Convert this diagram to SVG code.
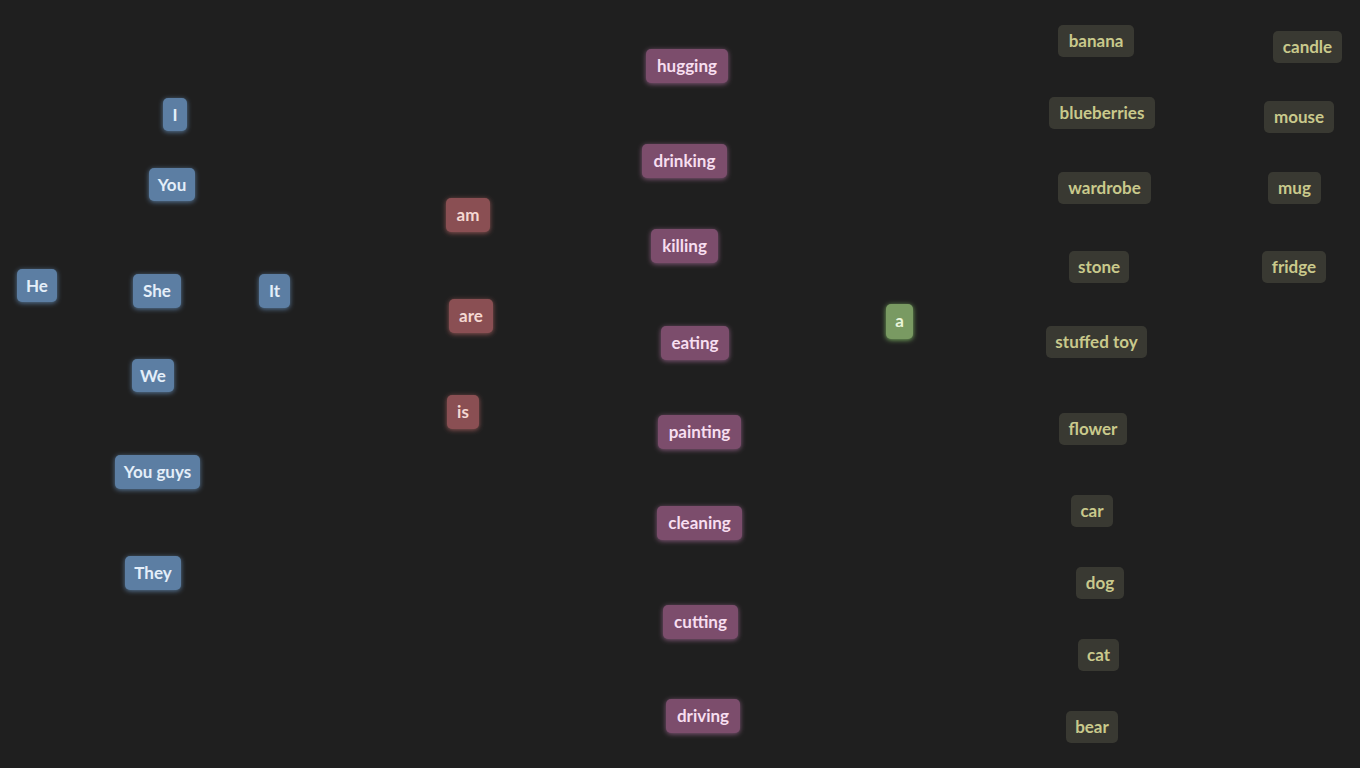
<svg xmlns="http://www.w3.org/2000/svg" width="1360" height="768" viewBox="0 0 1360 768">
<defs>
<filter id="glow" x="-50%" y="-50%" width="200%" height="200%"><feGaussianBlur in="SourceAlpha" stdDeviation="3"/><feOffset dy="1"/><feComponentTransfer><feFuncA type="linear" slope="0.9"/></feComponentTransfer><feFlood flood-color="#000"/><feComposite operator="in" in2="SourceAlpha"/></filter>
<filter id="gb" x="-50%" y="-50%" width="200%" height="200%"><feDropShadow dx="0" dy="1" stdDeviation="2.5" flood-color="#6f9fd0" flood-opacity="0.7"/></filter>
<filter id="gr" x="-50%" y="-50%" width="200%" height="200%"><feDropShadow dx="0" dy="1" stdDeviation="2.5" flood-color="#c06a6a" flood-opacity="0.7"/></filter>
<filter id="gp" x="-50%" y="-50%" width="200%" height="200%"><feDropShadow dx="0" dy="1" stdDeviation="2.5" flood-color="#b070a0" flood-opacity="0.7"/></filter>
<filter id="gg" x="-50%" y="-50%" width="200%" height="200%"><feDropShadow dx="0" dy="1" stdDeviation="2.5" flood-color="#8fd070" flood-opacity="0.8"/></filter>
</defs>
<style>
text{font-family:"Lato","Liberation Sans",sans-serif;font-weight:bold;font-size:17px;text-anchor:middle;dominant-baseline:central}
.b rect{fill:#5b7ea3;filter:url(#gb)} .b text{fill:#e4eef9}
.r rect{fill:#8a4f52;filter:url(#gr)} .r text{fill:#f5d8d2}
.p rect{fill:#7b4d6c;filter:url(#gp)} .p text{fill:#f7def0}
.g rect{fill:#799a62;filter:url(#gg)} .g text{fill:#eaf5da}
.o rect{fill:#393932} .o text{fill:#c9c98c}
</style>
<rect width="1360" height="768" fill="#1f1f1f"/>
<g id="connectors"/>
<g class="b">
<g id="n-I"><rect x="163" y="98" width="24" height="33" rx="5"/><text x="175" y="114">I</text></g>
<g id="n-You"><rect x="149" y="168" width="46" height="33" rx="5"/><text x="172" y="184">You</text></g>
<g id="n-He"><rect x="17" y="269" width="40" height="33" rx="5"/><text x="37" y="285">He</text></g>
<g id="n-She"><rect x="133" y="274" width="48" height="34" rx="5"/><text x="157" y="290">She</text></g>
<g id="n-It"><rect x="259" y="274" width="31" height="34" rx="5"/><text x="274.500" y="290">It</text></g>
<g id="n-We"><rect x="132" y="359" width="42" height="33" rx="5"/><text x="153" y="375">We</text></g>
<g id="n-Youguys"><rect x="115" y="455" width="85" height="34" rx="5"/><text x="157.500" y="471">You guys</text></g>
<g id="n-They"><rect x="125" y="556" width="56" height="34" rx="5"/><text x="153" y="572">They</text></g>
</g>
<g class="r">
<g id="n-am"><rect x="446" y="198" width="44" height="34" rx="5"/><text x="468" y="214">am</text></g>
<g id="n-are"><rect x="449" y="299" width="44" height="34" rx="5"/><text x="471" y="315">are</text></g>
<g id="n-is"><rect x="447" y="395" width="32" height="34" rx="5"/><text x="463" y="411">is</text></g>
</g>
<g class="p">
<g id="n-hugging"><rect x="646" y="49" width="82" height="34" rx="5"/><text x="687" y="65">hugging</text></g>
<g id="n-drinking"><rect x="642" y="144" width="85" height="34" rx="5"/><text x="684.500" y="160">drinking</text></g>
<g id="n-killing"><rect x="651" y="229" width="67" height="34" rx="5"/><text x="684.500" y="245">killing</text></g>
<g id="n-eating"><rect x="661" y="326" width="68" height="34" rx="5"/><text x="695" y="342">eating</text></g>
<g id="n-painting"><rect x="658" y="415" width="83" height="34" rx="5"/><text x="699.500" y="431">painting</text></g>
<g id="n-cleaning"><rect x="657" y="506" width="85" height="34" rx="5"/><text x="699.500" y="522">cleaning</text></g>
<g id="n-cutting"><rect x="663" y="605" width="75" height="34" rx="5"/><text x="700.500" y="621">cutting</text></g>
<g id="n-driving"><rect x="666" y="699" width="74" height="34" rx="5"/><text x="703" y="715">driving</text></g>
</g>
<g class="g">
<g id="n-a"><rect x="886" y="304" width="27" height="35" rx="5"/><text x="899.500" y="320">a</text></g>
</g>
<g class="o">
<g id="n-banana"><rect x="1058" y="25" width="76" height="32" rx="5"/><text x="1096" y="40">banana</text></g>
<g id="n-blueberries"><rect x="1049" y="97" width="106" height="32" rx="5"/><text x="1102" y="112">blueberries</text></g>
<g id="n-wardrobe"><rect x="1058" y="172" width="93" height="32" rx="5"/><text x="1104.500" y="187">wardrobe</text></g>
<g id="n-stone"><rect x="1069" y="251" width="60" height="32" rx="5"/><text x="1099" y="266">stone</text></g>
<g id="n-stuffedtoy"><rect x="1046" y="326" width="101" height="32" rx="5"/><text x="1096.500" y="341">stuffed toy</text></g>
<g id="n-flower"><rect x="1059" y="413" width="68" height="32" rx="5"/><text x="1093" y="428">flower</text></g>
<g id="n-car"><rect x="1071" y="495" width="42" height="32" rx="5"/><text x="1092" y="510">car</text></g>
<g id="n-dog"><rect x="1076" y="567" width="48" height="32" rx="5"/><text x="1100" y="582">dog</text></g>
<g id="n-cat"><rect x="1078" y="639" width="41" height="32" rx="5"/><text x="1098.500" y="654">cat</text></g>
<g id="n-bear"><rect x="1066" y="711" width="52" height="32" rx="5"/><text x="1092" y="726">bear</text></g>
<g id="n-candle"><rect x="1273" y="31" width="69" height="32" rx="5"/><text x="1307.500" y="46">candle</text></g>
<g id="n-mouse"><rect x="1264" y="101" width="70" height="32" rx="5"/><text x="1299" y="116">mouse</text></g>
<g id="n-mug"><rect x="1268" y="172" width="53" height="32" rx="5"/><text x="1294.500" y="187">mug</text></g>
<g id="n-fridge"><rect x="1262" y="251" width="64" height="32" rx="5"/><text x="1294" y="266">fridge</text></g>
</g>
</svg>
